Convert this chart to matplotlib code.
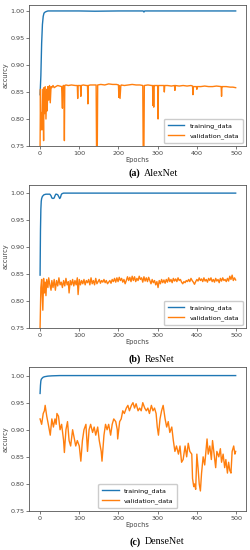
import matplotlib
matplotlib.use("Agg")
from matplotlib import pyplot as plt

# ---- AlexNet ----
alex_train_ep = [0, 2, 4, 6, 8, 10, 13, 16, 20, 60, 100, 140, 200, 263, 265, 267, 330, 400, 450, 499]
alex_train = [0.845, 0.88, 0.94, 0.975, 0.99, 0.996, 0.998, 0.999, 1.0, 1.0, 1.0, 0.9995, 1.0, 1.0, 0.998, 1.0, 1.0, 1.0, 1.0, 1.0]

alex_val_ep = [0, 1, 2, 3, 5, 7, 9, 10, 11, 13, 15, 17, 18, 20, 22, 24, 26, 28, 30, 33, 36, 40, 45, 50,
               55, 57, 58, 59, 61, 62, 63, 66, 72, 80, 90, 95, 96, 97, 100, 103, 104, 105, 110, 118,
               121, 122, 123, 128, 135, 143, 144, 145, 146, 147, 155, 165, 175, 185, 195, 200, 201, 202,
               204, 206, 207, 215, 225, 235, 245, 255, 262, 263, 264, 265, 266, 275, 285, 287, 288, 289,
               290, 291, 292, 296, 300, 301, 302, 308, 316, 317, 318, 325, 335, 343, 344, 345, 355, 365,
               375, 385, 389, 390, 391, 395, 399, 400, 401, 410, 420, 430, 440, 450, 462, 463, 464, 465,
               475, 485, 492, 499]
alex_val = [0.75, 0.855, 0.78, 0.812, 0.78, 0.855, 0.76, 0.858, 0.81, 0.86, 0.80, 0.855, 0.815, 0.86, 0.835,
            0.862, 0.83, 0.86, 0.858, 0.862, 0.858, 0.86, 0.862, 0.861,
            0.86, 0.82, 0.858, 0.862, 0.862, 0.76, 0.862, 0.863, 0.862, 0.863, 0.862, 0.862, 0.838, 0.862,
            0.862, 0.862, 0.842, 0.862, 0.863, 0.862,
            0.862, 0.828, 0.862, 0.863, 0.863, 0.863, 0.75, 0.70, 0.75, 0.863, 0.864, 0.863, 0.865, 0.864,
            0.864, 0.863, 0.84, 0.862,
            0.838, 0.862, 0.863, 0.862, 0.863, 0.864, 0.863, 0.863, 0.862, 0.75, 0.70, 0.75, 0.862, 0.863,
            0.862, 0.862, 0.825, 0.862,
            0.822, 0.862, 0.862, 0.862, 0.862, 0.80, 0.862, 0.862, 0.862, 0.85, 0.862, 0.862, 0.861, 0.862,
            0.853, 0.862, 0.861, 0.862,
            0.861, 0.862, 0.861, 0.845, 0.86, 0.86, 0.86, 0.855, 0.86, 0.86, 0.861, 0.86, 0.86, 0.861,
            0.86, 0.842, 0.86, 0.86,
            0.86, 0.859, 0.859, 0.858]

# ---- ResNet ----
res_train_ep = [0, 1, 2, 3, 4, 6, 10, 15, 20, 25, 28, 30, 33, 36, 38, 40, 42, 45, 48, 50, 52, 54, 56, 60,
                70, 100, 200, 300, 400, 499]
res_train = [0.848, 0.93, 0.97, 0.985, 0.99, 0.994, 0.997, 0.998, 0.998, 0.998, 0.995, 0.991, 0.99, 0.991,
             0.995, 0.998, 0.998, 0.997, 0.993, 0.99, 0.992, 0.997, 0.999, 1.0,
             1.0, 1.0, 1.0, 1.0, 1.0, 1.0]

res_val_ep = [0, 2, 4, 6, 7, 9, 11, 13, 15, 17, 20, 22, 25, 28, 30, 33, 36, 39, 42, 45, 48, 51, 54, 57,
              60, 63, 66, 69, 72, 74, 77, 80, 83, 86, 89, 92, 95, 97, 100, 103, 106, 109, 112, 115, 118,
              121, 124, 127, 130, 133, 136, 139, 142, 145, 148, 151, 154, 157, 160, 163, 166, 169, 172,
              175, 178, 181, 184, 187, 190, 193, 196, 199, 202, 205, 208, 211, 214, 217, 220, 223, 226,
              229, 232, 235, 238, 241, 244, 247, 250, 253, 256, 259, 262, 265, 268, 271, 274, 277, 280,
              283, 286, 289, 292, 295, 298, 301, 304, 307, 310, 313, 316, 319, 322, 325, 328, 331, 334,
              337, 340, 343, 346, 349, 352, 355, 358, 361, 364, 367, 370, 373, 376, 379, 382, 385, 388,
              391, 394, 397, 400, 403, 406, 409, 412, 415, 418, 421, 424, 427, 430, 433, 436, 439, 442,
              445, 448, 451, 454, 457, 460, 463, 466, 469, 472, 475, 478, 481, 484, 487, 490, 493, 496, 499]
res_val = [0.75, 0.825, 0.84, 0.80, 0.783, 0.842, 0.815, 0.835, 0.81, 0.84, 0.825, 0.843, 0.83, 0.82,
           0.838, 0.825, 0.84, 0.82, 0.838, 0.828, 0.843, 0.83, 0.835, 0.825,
           0.838, 0.828, 0.842, 0.83, 0.836, 0.815, 0.838, 0.83, 0.84, 0.828, 0.838, 0.83, 0.843, 0.812,
           0.84, 0.83, 0.838, 0.832, 0.84, 0.83, 0.838,
           0.834, 0.84, 0.83, 0.843, 0.832, 0.838, 0.83, 0.842, 0.832, 0.836, 0.84, 0.833, 0.838, 0.835,
           0.84, 0.834, 0.838, 0.832,
           0.835, 0.838, 0.833, 0.84, 0.836, 0.842, 0.835, 0.843, 0.836, 0.844, 0.838, 0.842, 0.835, 0.84,
           0.832, 0.838, 0.845, 0.838,
           0.844, 0.836, 0.846, 0.838, 0.845, 0.836, 0.842, 0.838, 0.846, 0.84, 0.843, 0.835, 0.845, 0.837,
           0.843, 0.836, 0.844, 0.838,
           0.832, 0.84, 0.834, 0.838, 0.83, 0.836, 0.825, 0.838, 0.832, 0.84, 0.834, 0.839, 0.833, 0.84,
           0.835, 0.843, 0.836, 0.84,
           0.834, 0.842, 0.837, 0.841, 0.836, 0.843, 0.838, 0.84, 0.835, 0.832, 0.836, 0.834, 0.838, 0.836,
           0.84, 0.836, 0.842, 0.838,
           0.835, 0.831, 0.836, 0.84, 0.837, 0.843, 0.838, 0.841, 0.836, 0.843, 0.837, 0.84, 0.835, 0.842,
           0.838, 0.843, 0.836, 0.84,
           0.835, 0.842, 0.837, 0.84, 0.834, 0.842, 0.837, 0.843, 0.838, 0.84, 0.836, 0.842, 0.837, 0.846,
           0.84, 0.848, 0.838, 0.843, 0.839]

# ---- DenseNet ----
dense_train_ep = [0, 1, 2, 3, 5, 8, 12, 20, 30, 50, 100, 200, 300, 400, 499]
dense_train = [0.967, 0.982, 0.99, 0.993, 0.995, 0.997, 0.998, 0.999, 0.9995, 1.0, 1.0, 1.0, 1.0, 1.0, 1.0]

dense_val_ep = [0, 4, 8, 11, 13, 17, 21, 26, 30, 34, 38, 41, 43, 47, 51, 55, 60, 62, 66, 70, 74, 78, 83,
                87, 91, 95, 100, 104, 108, 112, 117, 121, 125, 129, 134, 138, 142, 147, 151, 156, 158, 163,
                167, 171, 175, 180, 184, 188, 193, 197, 198, 203, 207, 211, 215, 220, 224, 228, 233, 237,
                241, 245, 250, 254, 258, 262, 267, 271, 275, 279, 284, 288, 292, 296, 299, 302, 306, 310,
                314, 319, 323, 327, 331, 336, 340, 344, 348, 353, 357, 361, 365, 370, 374, 378, 382, 387,
                389, 392, 394, 397, 400, 403, 406, 409, 412, 416, 420, 423, 426, 429, 433, 437, 440, 444,
                448, 451, 456, 460, 463, 467, 471, 474, 478, 481, 484, 487, 490, 494, 497, 499]
dense_val = [0.92, 0.91, 0.93, 0.935, 0.945, 0.925, 0.91, 0.89, 0.92, 0.905, 0.92, 0.91, 0.93, 0.925,
             0.90, 0.91, 0.88, 0.858, 0.90, 0.915, 0.88, 0.87, 0.90,
             0.885, 0.87, 0.88, 0.87, 0.842, 0.88, 0.90, 0.91, 0.86, 0.90, 0.91, 0.895, 0.905, 0.89, 0.905,
             0.88, 0.86, 0.842, 0.89,
             0.91, 0.90, 0.91, 0.89, 0.91, 0.92, 0.915, 0.90, 0.883, 0.915, 0.92, 0.935, 0.93, 0.94, 0.945,
             0.935, 0.945, 0.95,
             0.94, 0.948, 0.935, 0.94, 0.935, 0.95, 0.94, 0.935, 0.94, 0.93, 0.945, 0.935, 0.94, 0.93,
             0.905, 0.89, 0.92, 0.935,
             0.945, 0.92, 0.905, 0.915, 0.895, 0.905, 0.88, 0.86, 0.87, 0.855, 0.87, 0.84, 0.845, 0.87,
             0.85, 0.875, 0.86, 0.855,
             0.81, 0.795, 0.80, 0.79, 0.855, 0.83, 0.80, 0.787, 0.82, 0.85, 0.835, 0.86, 0.883, 0.855, 0.87,
             0.845, 0.88, 0.855,
             0.83, 0.86, 0.85, 0.865, 0.84, 0.855, 0.83, 0.845, 0.82, 0.84, 0.825, 0.82, 0.86, 0.87, 0.855,
             0.86]

panels = [
    ("AlexNet", "(a)", alex_train_ep, alex_train, alex_val_ep, alex_val, "lower right", (0.7345, 0.2564), 1.011),
    ("ResNet", "(b)", res_train_ep, res_train, res_val_ep, res_val, "lower right", (0.4036, 0.2600), 1.015),
    ("DenseNet", "(c)", dense_train_ep, dense_train, dense_val_ep, dense_val, "lower center", (0.0709, 0.2620), 1.016),
]
caption_y = [1 - 173 / 550, 1 - 359 / 550, 1 - 542 / 550]

plt.rcParams["font.size"] = 4.6
plt.rcParams["axes.edgecolor"] = "#555555"
plt.rcParams["axes.linewidth"] = 0.6
plt.rcParams["xtick.color"] = "#444444"
plt.rcParams["ytick.color"] = "#444444"

fig = plt.figure(figsize=(2.51, 5.50), dpi=100)

for (name, tag, tr_ep, tr, va_ep, va, loc, (bottom, height), ytop), cy in zip(panels, caption_y):
    ax = fig.add_axes([0.1175, bottom, 0.862, height])
    ax.plot(tr_ep, tr, color="#1f77b4", lw=1.0, label="training_data")
    ax.plot(va_ep, va, color="#ff7f0e", lw=1.0, label="validation_data")
    ax.set_xlim(-27, 525)
    ax.set_ylim(0.75, ytop)
    ax.set_xticks([0, 100, 200, 300, 400, 500])
    ax.set_yticks([0.75, 0.80, 0.85, 0.90, 0.95, 1.00])
    ax.tick_params(length=2, width=0.5, pad=1.5, labelsize=4.6)
    ax.set_xlabel("Epochs", fontsize=4.8, color="#444444", labelpad=1)
    ax.set_ylabel("accurcy", fontsize=4.8, color="#444444", labelpad=1.5)
    ax.legend(loc=loc, fontsize=4.6, handlelength=2.6, frameon=True, framealpha=1,
              edgecolor="#cccccc", borderpad=0.6, labelspacing=0.6)
    fig.text(0.56, cy, tag, ha="right", va="center", fontsize=7.2,
             family="Liberation Serif", weight="bold")
    fig.text(0.575, cy, name, ha="left", va="center", fontsize=7.2,
             family="Liberation Serif")

fig.savefig("out.png", dpi=100)
